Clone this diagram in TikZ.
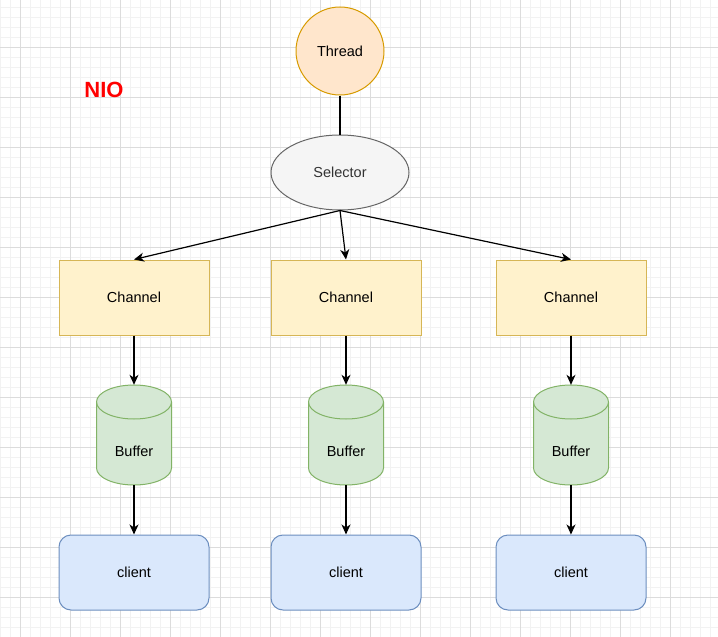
\documentclass[tikz,border=0pt]{standalone}
\usepackage{fontspec}
\setmainfont{Liberation Sans}
\usetikzlibrary{arrows.meta,shapes.geometric}
\definecolor{minorgrid}{HTML}{F2F2F2}
\definecolor{majorgrid}{HTML}{DCDCDC}
\definecolor{thrfill}{HTML}{FFE6CC}
\definecolor{thrline}{HTML}{D79B00}
\definecolor{selfill}{HTML}{F5F5F5}
\definecolor{selline}{HTML}{666666}
\definecolor{chfill}{HTML}{FFF2CC}
\definecolor{chline}{HTML}{D6B656}
\definecolor{buffill}{HTML}{D5E8D4}
\definecolor{bufline}{HTML}{82B366}
\definecolor{clfill}{HTML}{DAE8FC}
\definecolor{clline}{HTML}{6C8EBF}
\definecolor{seltext}{HTML}{333333}
\tikzset{
  mingrid/.style={minorgrid,line width=0.8pt},
  majgrid/.style={majorgrid,line width=0.8pt},
  lbl/.style={font=\fontsize{14.5}{16}\selectfont,text=black},
  thr/.style={circle,draw=thrline,fill=thrfill,line width=1pt,minimum size=88pt,inner sep=0pt,lbl},
  sel/.style={ellipse,draw=selline,fill=selfill,line width=1pt,minimum width=138pt,minimum height=75pt,inner sep=0pt,lbl,text=seltext},
  chan/.style={rectangle,draw=chline,fill=chfill,line width=1pt,minimum width=150pt,minimum height=75pt,inner sep=0pt,lbl},
  bufbox/.style={rectangle,minimum width=75pt,minimum height=100pt,inner sep=0pt},
  bufdraw/.style={draw=bufline,fill=buffill,line width=1pt},
  cli/.style={rectangle,rounded corners=12pt,draw=clline,fill=clfill,line width=1pt,minimum width=150pt,minimum height=75pt,inner sep=0pt,lbl},
  conn/.style={black,line width=1.2pt},
  arr/.style={conn,-{Stealth[length=10pt,width=9pt,inset=3pt]}},
}
\begin{document}
\begin{tikzpicture}[x=1pt,y=-1pt]
\useasboundingbox (0,0) rectangle (718,637);
\fill[white] (0,0) rectangle (718,637);
\foreach \x in {0,10,...,710} \draw[mingrid] (\x,0) -- (\x,637);
\foreach \y in {7,17,...,637} \draw[mingrid] (0,\y) -- (718,\y);
\foreach \x in {20,70,...,670} \draw[majgrid] (\x,0) -- (\x,637);
\foreach \y in {47,97,...,597} \draw[majgrid] (0,\y) -- (718,\y);

\node[text=red,font=\bfseries\fontsize{22}{24}\selectfont] (nio) at (104,90) {NIO};

\node[thr] (thread) at (340,51) {Thread};
\node[sel] (sel) at (340,172.5) {Selector};
\draw[conn] (thread.south) -- (sel.north);

\foreach \cx/\n in {134/1,346/2,571/3}{
  \node[chan] (ch\n) at (\cx,297.5) {Channel};
  \filldraw[bufdraw] (\cx-37.5,402) -- (\cx-37.5,468)
     arc[start angle=180,end angle=0,x radius=37.5,y radius=17]
     -- (\cx+37.5,402)
     arc[start angle=0,end angle=-180,x radius=37.5,y radius=17] -- cycle;
  \draw[bufdraw,fill=none] (\cx-37.5,402) arc[start angle=180,end angle=0,x radius=37.5,y radius=17];
  \node[bufbox,label={[lbl,yshift=-16pt]center:Buffer}] (b\n) at (\cx,435) {};
  \node[cli] (cl\n) at (\cx,572.5) {client};
  \draw[arr] (sel.south) -- (ch\n.north);
  \draw[arr] (ch\n.south) -- (b\n.north);
  \draw[arr] (b\n.south) -- (cl\n.north);
}
\end{tikzpicture}
\end{document}
